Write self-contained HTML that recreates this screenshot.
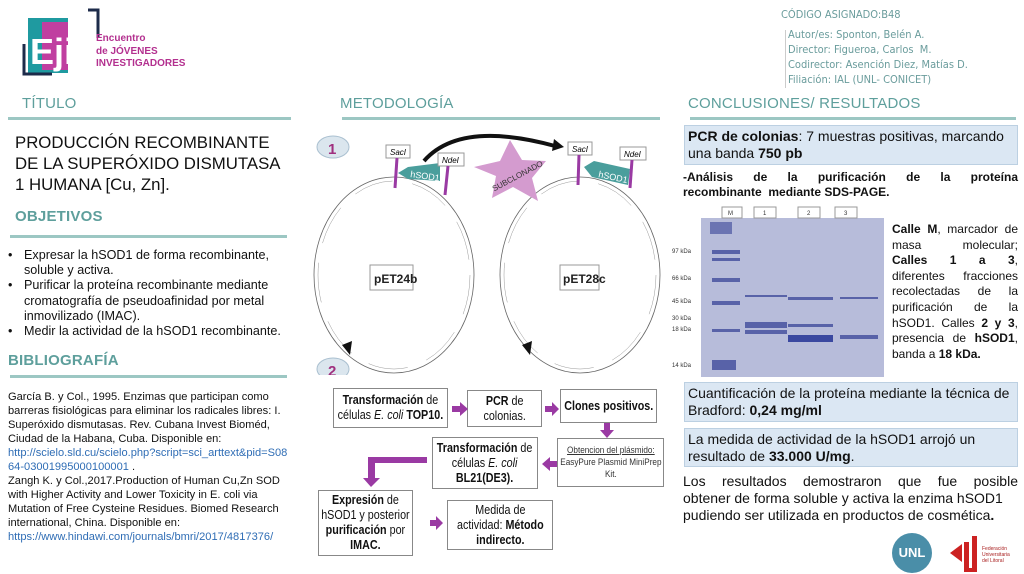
<!DOCTYPE html>
<html><head><meta charset="utf-8"><style>
*{margin:0;padding:0;box-sizing:border-box}
body{width:1024px;height:574px;background:#fff;position:relative;overflow:hidden;font-family:"Liberation Sans",sans-serif;color:#111}
.a{position:absolute}
.h{position:absolute;color:#5e9f9c;font-size:15px;letter-spacing:0.2px}
.ln{position:absolute;height:3px;background:#9cc7c3}
.box{position:absolute;background:#dbe7f3;border:1px solid #bcd0e2;font-size:14px;line-height:17px;padding:2px 3px}
.fb{position:absolute;border:1px solid #888;background:#fff;text-align:center;font-size:12.5px;line-height:15px;display:flex;align-items:center;justify-content:center;white-space:nowrap}
.fb span{display:inline-block;transform:scaleX(0.86)}
.meta{position:absolute;left:788px;font-size:11px;color:#6a9c9c;font-family:"DejaVu Sans Condensed","Liberation Sans",sans-serif}
</style></head><body>
<svg class="a" style="left:22px;top:8px" width="80" height="72">
<rect x="6" y="10" width="40" height="55" fill="#1f9aa0"/>
<rect x="20" y="14" width="26" height="48" fill="#c03fa0"/>
<path d="M66 2 L76 2 L76 30" stroke="#1d2b4a" stroke-width="3" fill="none"/>
<path d="M2 36 L2 66 L30 66" stroke="#1d2b4a" stroke-width="3" fill="none"/>
<text x="8" y="56" font-size="36" font-weight="bold" fill="#fff">Eji</text>
</svg>
<div class="a" style="left:96px;top:33px;font-size:10px;font-weight:bold;color:#b3308f;line-height:12.5px">Encuentro<br>de JÓVENES<br>INVESTIGADORES</div>
<div class="meta" style="left:781px;top:8px">CÓDIGO ASIGNADO:B48</div>
<div class="a" style="left:785px;top:30px;width:1px;height:58px;background:#ccc"></div>
<div class="meta" style="top:27px;line-height:15px">Autor/es: Sponton, Belén A.<br>Director: Figueroa, Carlos&nbsp; M.<br>Codirector: Asención Diez, Matías D.<br>Filiación: IAL (UNL- CONICET)</div>

<div class="h" style="left:22px;top:95px">TÍTULO</div>
<div class="ln" style="left:8px;top:117px;width:283px"></div>
<div class="h" style="left:340px;top:95px">METODOLOGÍA</div>
<div class="ln" style="left:342px;top:117px;width:318px"></div>
<div class="h" style="left:688px;top:95px">CONCLUSIONES/ RESULTADOS</div>
<div class="ln" style="left:690px;top:117px;width:326px"></div>

<div class="a" style="left:15px;top:132px;font-size:16.8px;line-height:21px">PRODUCCIÓN RECOMBINANTE<br>DE LA SUPERÓXIDO DISMUTASA<br>1 HUMANA [Cu, Zn].</div>
<div class="h" style="left:15px;top:208px;font-weight:bold">OBJETIVOS</div>
<div class="ln" style="left:10px;top:235px;width:277px"></div>
<div class="a" style="left:8px;top:248px;font-size:12.6px;line-height:15.2px;width:300px">
<div style="position:relative;padding-left:16px"><span style="position:absolute;left:0">•</span>Expresar la hSOD1 de forma recombinante,<br>soluble y activa.</div>
<div style="position:relative;padding-left:16px"><span style="position:absolute;left:0">•</span>Purificar la proteína recombinante mediante<br>cromatografía de pseudoafinidad por metal<br>inmovilizado (IMAC).</div>
<div style="position:relative;padding-left:16px"><span style="position:absolute;left:0">•</span>Medir la actividad de la hSOD1 recombinante.</div></div>
<div class="h" style="left:8px;top:352px;font-weight:bold">BIBLIOGRAFÍA</div>
<div class="ln" style="left:10px;top:375px;width:277px"></div>
<div class="a" style="left:8px;top:390px;font-size:11.1px;line-height:14px;width:305px;white-space:nowrap">García B. y Col., 1995. Enzimas que participan como<br>barreras fisiológicas para eliminar los radicales libres: I.<br>Superóxido dismutasas. Rev. Cubana Invest Bioméd,<br>Ciudad de la Habana, Cuba. Disponible en:<br><span style="color:#2f6db5">http://scielo.sld.cu/scielo.php?script=sci_arttext&amp;pid=S08<br>64-03001995000100001</span> .<br>Zangh K. y Col.,2017.Production of Human Cu,Zn SOD<br>with Higher Activity and Lower Toxicity in E. coli via<br>Mutation of Free Cysteine Residues. Biomed Research<br>international, China. Disponible en:<br><span style="color:#2f6db5">https://www.hindawi.com/journals/bmri/2017/4817376/</span></div>

<svg class="a" style="left:310px;top:125px" width="370" height="250">
<ellipse cx="84" cy="150" rx="80" ry="98" fill="none" stroke="#666" stroke-width="0.8"/>
<ellipse cx="84" cy="150" rx="76" ry="94" fill="none" stroke="#999" stroke-width="0.5" stroke-dasharray="40 20"/>
<ellipse cx="270" cy="150" rx="80" ry="98" fill="none" stroke="#666" stroke-width="0.8"/>
<ellipse cx="270" cy="150" rx="76" ry="94" fill="none" stroke="#999" stroke-width="0.5" stroke-dasharray="40 20"/>
<ellipse cx="23" cy="22" rx="16" ry="11" fill="#dbe6ee" stroke="#aac0d0"/>
<text x="18" y="29" font-size="15" font-weight="bold" fill="#a0307f">1</text>
<ellipse cx="23" cy="244" rx="16" ry="11" fill="#dbe6ee" stroke="#aac0d0"/>
<text x="18" y="251" font-size="15" font-weight="bold" fill="#a0307f">2</text>
<rect x="60" y="140" width="43" height="25" fill="#fff" stroke="#999"/>
<text x="64" y="158" font-size="12" font-weight="bold" fill="#222">pET24b</text>
<rect x="250" y="140" width="39" height="25" fill="#fff" stroke="#999"/>
<text x="253" y="158" font-size="12" font-weight="bold" fill="#222">pET28c</text>
<path d="M32 220 l10 -4 l-2 14 z" fill="#111"/><path d="M212 220 l10 -4 l-2 14 z" fill="#111"/>
<polygon points="98,54 130,56 130,38 98,42 88,48" fill="#4a9e9c"/>
<text x="100" y="52" font-size="9" fill="#fff" transform="rotate(8 100 52)">hSOD1</text>
<polygon points="282,52 318,60 320,44 284,36 274,42" fill="#4a9e9c"/>
<text x="288" y="52" font-size="9" fill="#fff" transform="rotate(12 288 52)">hSOD1</text>
<rect x="76" y="20" width="24" height="13" fill="#fff" stroke="#999"/><text x="80" y="30" font-size="8" font-style="italic">SacI</text>
<rect x="128" y="28" width="26" height="13" fill="#fff" stroke="#999"/><text x="132" y="38" font-size="8" font-style="italic">NdeI</text>
<rect x="258" y="17" width="24" height="13" fill="#fff" stroke="#999"/><text x="262" y="27" font-size="8" font-style="italic">SacI</text>
<rect x="310" y="22" width="26" height="13" fill="#fff" stroke="#999"/><text x="314" y="32" font-size="8" font-style="italic">NdeI</text>
<g stroke="#9a3aa3" stroke-width="3"><line x1="87" y1="33" x2="85" y2="63"/><line x1="138" y1="41" x2="135" y2="70"/><line x1="269" y1="30" x2="268" y2="60"/><line x1="322" y1="35" x2="320" y2="63"/></g>
<path d="M114 36 Q150 -5 245 21" stroke="#111" stroke-width="4" fill="none"/>
<polygon points="244,14 254,22 242,26" fill="#111"/>
<polygon points="200,15 212,35 236,36 222,53 228,76 203,62 182,73 186,51 164,42 190,36" fill="#d49bcf"/>
<text x="178" y="58" font-size="8" fill="#333" transform="rotate(-28 198 50)">SUBCLONADO</text>
</svg>

<div class="fb" style="left:333px;top:388px;width:115px;height:40px"><span><b>Transformación</b> de<br>células <i>E. coli</i> <b>TOP10.</b></span></div>
<div class="fb" style="left:467px;top:390px;width:75px;height:37px"><span><b>PCR</b> de<br>colonias.</span></div>
<div class="fb" style="left:560px;top:389px;width:97px;height:34px"><span><b>Clones positivos.</b></span></div>
<div class="fb" style="left:557px;top:438px;width:107px;height:49px;font-size:9.5px;line-height:12px;color:#333"><span><u>Obtencion del plásmido:</u><br>EasyPure Plasmid MiniPrep<br>Kit.</span></div>
<div class="fb" style="left:432px;top:437px;width:106px;height:52px"><span><b>Transformación</b> de<br>células <i>E. coli</i><br><b>BL21(DE3).</b></span></div>
<div class="fb" style="left:318px;top:490px;width:95px;height:66px"><span><b>Expresión</b> de<br>hSOD1 y posterior<br><b>purificación</b> por<br><b>IMAC.</b></span></div>
<div class="fb" style="left:447px;top:500px;width:106px;height:50px"><span>Medida de<br>actividad: <b>Método<br>indirecto.</b></span></div>
<svg class="a" style="left:0;top:0" width="1024" height="574">
<g fill="#9a3aa3">
<polygon points="452,406 460,406 460,402 468,409 460,416 460,412 452,412"/>
<polygon points="545,406 552,406 552,402 559,409 552,416 552,412 545,412"/>
<polygon points="604,423 610,423 610,430 614,430 607,438 600,430 604,430"/>
<polygon points="557,461 550,461 550,457 542,464 550,471 550,467 557,467"/>
<polygon points="427,457 368,457 368,478 363,478 371,487 380,478 375,478 375,463 427,463"/>
<polygon points="430,520 436,520 436,516 443,523 436,530 436,526 430,526"/>
</g></svg>

<div class="box" style="left:684px;top:125px;width:334px;height:40px"><b>PCR de colonias</b>: 7 muestras positivas, marcando una banda <b>750 pb</b></div>
<div class="a" style="left:683px;top:170px;width:335px;font-size:12px;line-height:15px;font-weight:bold;text-align:justify;text-align-last:justify">-Análisis de la purificación de la proteína</div>
<div class="a" style="left:683px;top:185px;font-size:12px;line-height:15px;font-weight:bold">recombinante&nbsp; mediante SDS-PAGE.</div>
<svg class="a" style="left:670px;top:200px" width="220" height="180">
<rect x="31" y="18" width="183" height="159" fill="#b7bcda"/>
<g fill="#fff" stroke="#999"><rect x="52" y="7" width="20" height="11"/><rect x="84" y="7" width="22" height="11"/><rect x="128" y="7" width="22" height="11"/><rect x="165" y="7" width="22" height="11"/></g>
<g font-size="6" fill="#333"><text x="58" y="15">M</text><text x="93" y="15">1</text><text x="137" y="15">2</text><text x="174" y="15">3</text>
<text x="2" y="53">97 kDa</text><text x="2" y="80">66 kDa</text><text x="2" y="103">45 kDa</text><text x="2" y="120">30 kDa</text><text x="2" y="131">18 kDa</text><text x="2" y="167">14 kDa</text></g>
<g fill="#5862a8"><rect x="40" y="22" width="22" height="12" opacity=".8"/><rect x="42" y="50" width="28" height="4"/><rect x="42" y="58" width="28" height="3"/><rect x="42" y="78" width="28" height="4"/><rect x="42" y="101" width="28" height="4"/><rect x="42" y="129" width="28" height="3"/><rect x="42" y="160" width="24" height="10"/>
<rect x="75" y="122" width="42" height="6"/><rect x="75" y="130" width="42" height="4"/><rect x="75" y="95" width="42" height="2"/>
<rect x="118" y="135" width="45" height="7" fill="#3a48a0"/><rect x="118" y="97" width="45" height="3"/><rect x="118" y="124" width="45" height="3"/>
<rect x="170" y="135" width="38" height="4"/><rect x="170" y="97" width="38" height="2"/></g>
</svg>
<div class="a" style="left:892px;top:222px;width:126px;font-size:12px;line-height:15.6px;text-align:justify;white-space:nowrap">
<div style="text-align-last:justify"><b>Calle M</b>, marcador de</div>
<div style="text-align-last:justify">masa molecular;</div>
<div style="text-align-last:justify"><b>Calles 1 a 3</b>,</div>
<div style="text-align-last:justify">diferentes fracciones</div>
<div style="text-align-last:justify">recolectadas de la</div>
<div style="text-align-last:justify">purificación de la</div>
<div style="text-align-last:justify">hSOD1. Calles <b>2 y 3</b>,</div>
<div style="text-align-last:justify">presencia de <b>hSOD1</b>,</div>
<div>banda a <b>18 kDa.</b></div></div>
<div class="box" style="left:684px;top:382px;width:334px;height:40px">Cuantificación de la proteína mediante la técnica de Bradford: <b>0,24 mg/ml</b></div>
<div class="box" style="left:684px;top:428px;width:334px;height:39px">La medida de actividad de la hSOD1 arrojó un resultado de <b>33.000 U/mg</b>.</div>
<div class="a" style="left:683px;top:473px;width:335px;font-size:14px;line-height:17px;white-space:nowrap">
<div style="text-align:justify;text-align-last:justify">Los resultados demostraron que fue posible</div>
<div>obtener de forma soluble y activa la enzima hSOD1</div>
<div>pudiendo ser utilizada en productos de cosmética<b>.</b></div></div>
<div class="a" style="left:892px;top:533px;width:40px;height:40px;border-radius:50%;background:#4a8ea8;color:#fff;font-weight:bold;font-size:13px;text-align:center;line-height:40px">UNL</div>
<svg class="a" style="left:948px;top:532px" width="70" height="42">
<polygon points="2,21 14,12 14,30" fill="#c22"/><rect x="16" y="10" width="5" height="28" fill="#c22"/><rect x="24" y="4" width="5" height="34" fill="#c22"/><rect x="16" y="36" width="13" height="4" fill="#c22"/>
<text x="34" y="18" font-size="5" fill="#a22">Federación</text><text x="34" y="24" font-size="5" fill="#a22">Universitaria</text><text x="34" y="30" font-size="5" fill="#a22">del Litoral</text>
</svg>
</body></html>
